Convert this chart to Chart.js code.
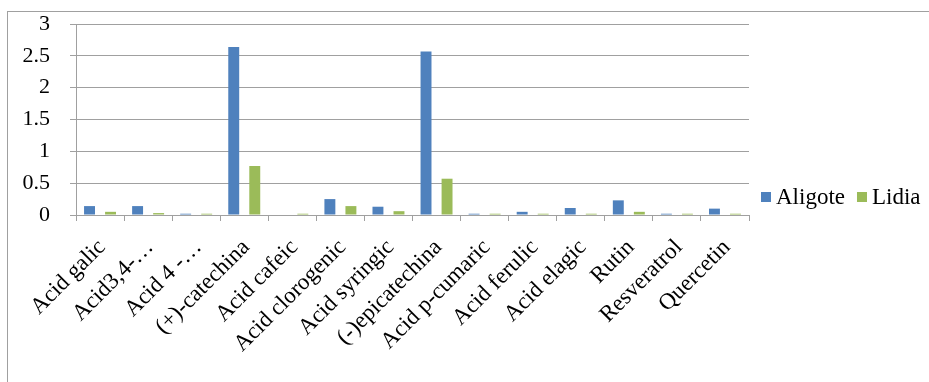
<!DOCTYPE html>
<html>
<head>
<meta charset="utf-8">
<script src="https://cdn.jsdelivr.net/npm/chart.js@4"></script>
<style>
  body { margin: 0; background: #fff; }
  #wrap { position: relative; width: 929px; height: 382px; overflow: hidden; }
  #frame { position: absolute; left: 7px; top: 11px; width: 940px; height: 400px;
           border-top: 1px solid #a0a0a0; border-left: 1px solid #a0a0a0; }
  canvas { position: absolute; left: 0; top: 0; }
</style>
</head>
<body>
<div id="wrap">
  <div id="frame"></div>
  <canvas id="chart" width="929" height="382"></canvas>
</div>
<script>
var categories = ['Acid galic', 'Acid3,4-…', 'Acid 4 -…', '(+)-catechina', 'Acid cafeic',
  'Acid clorogenic', 'Acid syringic', '(-)epicatechina', 'Acid p-cumaric', 'Acid ferulic',
  'Acid elagic', 'Rutin', 'Resveratrol', 'Quercetin'];
var aligote = [0.14, 0.14, 0.02, 2.64, 0, 0.25, 0.13, 2.57, 0.02, 0.05, 0.11, 0.23, 0.02, 0.1];
var lidia = [0.05, 0.03, 0.02, 0.77, 0.02, 0.14, 0.06, 0.57, 0.02, 0.02, 0.02, 0.05, 0.02, 0.02];

var seriesNames = ['Aligote', 'Lidia'];
var seriesColors = ['#4f81bd', '#9bbb59'];

var gridColor = '#a0a0a0';
var font = "'Liberation Serif', 'Times New Roman', serif";

// legend on the right, items side by side (like the excel one)
var sideLegend = {
  id: 'sideLegend',
  afterDraw: function(chart) {
    var c = chart.ctx;
    var x = 761;
    var y = 197;
    c.save();
    c.font = '23px ' + font;
    c.textBaseline = 'middle';
    c.textAlign = 'left';
    chart.data.datasets.forEach(function(ds) {
      c.fillStyle = ds.backgroundColor;
      c.fillRect(x, y - 5, 10, 10);
      c.fillStyle = '#000';
      c.fillText(ds.label, x + 15, y + 1);
      x += 15 + c.measureText(ds.label).width + 12;
    });
    c.restore();
  }
};

var ctx = document.getElementById('chart');

var chart = new Chart(ctx, {
  type: 'bar',
  data: {
    labels: categories,
    datasets: [
      {
        label: seriesNames[0],
        data: aligote,
        backgroundColor: seriesColors[0],
        categoryPercentage: 0.875,
        barPercentage: 0.52
      },
      {
        label: seriesNames[1],
        data: lidia,
        backgroundColor: seriesColors[1],
        categoryPercentage: 0.875,
        barPercentage: 0.52
      }
    ]
  },
  options: {
    responsive: false,
    animation: false,
    layout: { padding: { left: 8, top: 0, right: 180, bottom: 0 } },
    plugins: {
      legend: { display: false },
      tooltip: { enabled: false }
    },
    scales: {
      x: {
        grid: { display: true, drawOnChartArea: false, drawTicks: true, tickLength: 6, color: gridColor, offset: true },
        border: { color: gridColor },
        ticks: {
          color: '#000',
          font: { family: font, size: 23 },
          minRotation: 45,
          maxRotation: 45,
          autoSkip: false,
          labelOffset: 2,
          padding: 13
        },
        afterFit: function(scale) { scale.height = 167; }
      },
      y: {
        min: 0,
        max: 3,
        grid: { color: gridColor, tickLength: 6 },
        border: { color: gridColor },
        ticks: {
          stepSize: 0.5,
          color: '#000',
          font: { family: font, size: 22 },
          padding: 20,
          callback: function(value) { return String(value); }
        },
        afterFit: function(scale) {
          scale.width = 68;
          scale.paddingTop = 24;
          scale.paddingBottom = 0;
        }
      }
    }
  },
  plugins: [sideLegend]
});
</script>
</body>
</html>
